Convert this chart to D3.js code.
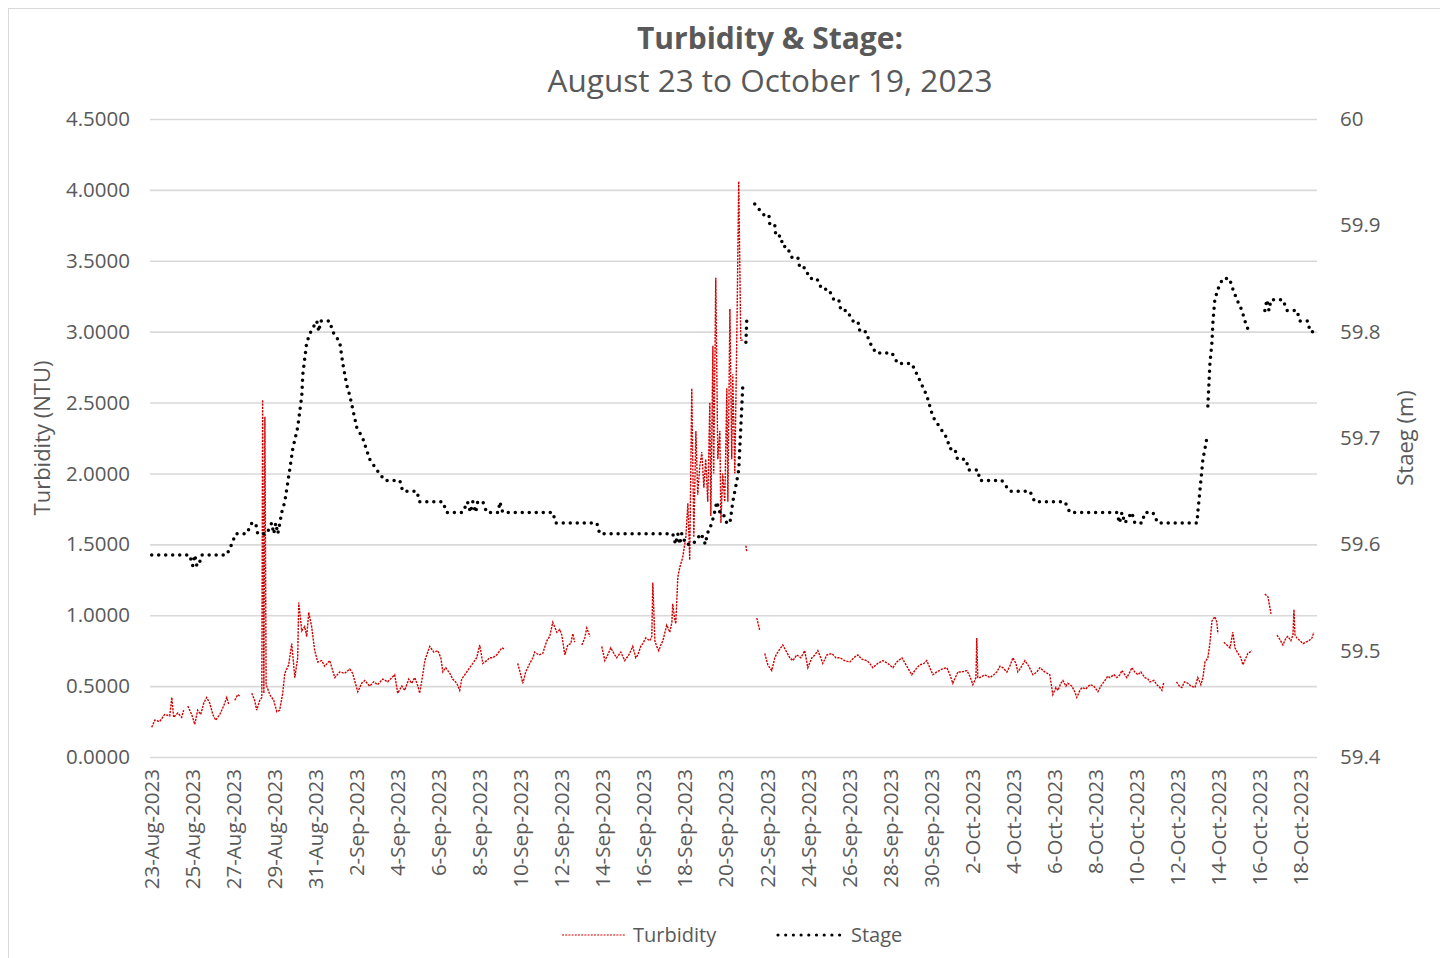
<!DOCTYPE html>
<html>
<head>
<meta charset="utf-8">
<script src="https://cdn.jsdelivr.net/npm/d3@7"></script>
<style>
  body { margin: 0; background: #fff; }
  text { font-family: "Open Sans", sans-serif; fill: #595959; }
</style>
</head>
<body>
<div id="chart"></div>
<script>
// data (days since 23-Aug-2023 00:00)
var turbDays = [0.00,0.15,0.39,0.63,0.88,0.98,1.07,1.27,1.46,1.56,1.66,1.76,1.95,2.10,2.24,2.39,2.54,2.68,2.83,2.98,3.12,3.32,3.51,3.66,3.76,3.90,
  4.05,4.20,4.29,4.60,4.88,5.02,5.12,5.27,5.37,5.41,5.47,5.52,5.58,5.76,5.95,6.10,6.24,6.39,6.49,6.68,6.83,6.98,7.12,7.17,7.32,7.46,7.56,7.66,7.80,7.95,
  8.10,8.29,8.44,8.68,8.93,9.17,9.41,9.66,9.80,10.05,10.24,10.39,10.63,10.83,11.02,11.27,11.51,11.71,11.85,12.00,12.20,12.34,12.54,12.68,12.83,12.98,
  13.07,13.22,13.32,13.56,13.76,13.95,14.10,14.20,14.34,14.54,14.68,14.88,15.02,15.12,15.27,15.46,15.66,15.85,16.00,16.15,16.34,16.49,16.63,16.83,16.98,
  17.07,17.22,17.50,17.85,18.00,18.10,18.24,18.44,18.59,18.68,18.88,19.07,19.27,19.41,19.56,19.76,19.90,20.00,20.15,20.29,20.44,20.54,20.63,20.80,
  20.98,21.12,21.22,21.37,21.65,21.95,22.10,22.24,22.39,22.54,22.68,22.88,23.07,23.27,23.46,23.61,23.71,23.85,23.95,24.10,24.29,24.39,24.44,24.54,24.63,
  24.73,24.83,24.93,25.12,25.27,25.37,25.41,25.51,25.56,25.66,25.76,25.90,26.05,26.15,26.24,26.34,26.44,26.54,26.63,26.73,26.83,26.93,27.02,27.12,27.22,
  27.27,27.37,27.41,27.51,27.61,27.71,27.76,27.85,27.95,28.05,28.10,28.20,28.29,28.34,28.44,28.54,28.63,28.73,28.83,28.90,28.98,29.02,29.30,29.51,29.66,
  29.78,29.90,30.05,30.24,30.39,30.49,30.63,30.78,30.93,31.12,31.27,31.46,31.66,31.85,32.00,32.20,32.34,32.49,32.63,32.73,32.93,33.17,33.37,33.56,33.80,
  34.05,34.24,34.44,34.63,34.88,35.02,35.17,35.41,35.66,35.90,36.15,36.34,36.59,36.83,37.07,37.27,37.46,37.66,37.80,37.95,38.10,38.29,38.54,38.78,38.93,
  39.07,39.32,39.51,39.76,39.90,40.05,40.20,40.24,40.29,40.39,40.63,40.88,41.07,41.22,41.37,41.51,41.71,41.85,42.00,42.15,42.24,42.39,42.59,42.78,42.98,
  43.17,43.32,43.56,43.80,43.95,44.10,44.20,44.34,44.44,44.59,44.68,44.88,45.02,45.12,45.27,45.37,45.56,45.76,45.95,46.15,46.29,46.49,46.63,46.73,46.93,
  47.07,47.22,47.32,47.46,47.56,47.71,47.80,47.95,48.10,48.24,48.44,48.59,48.68,48.88,49.02,49.17,49.27,49.37,49.65,49.98,50.12,50.24,50.37,50.54,50.68,
  50.88,51.02,51.17,51.27,51.37,51.51,51.61,51.71,51.85,51.95,52.00,52.15,52.29,52.44,52.59,52.73,52.83,52.98,53.12,53.22,53.37,53.46,53.56,53.66,54.00,
  54.29,54.44,54.59,54.75,54.88,55.02,55.17,55.32,55.41,55.56,55.66,55.71,55.76,55.85,56.00,56.15,56.29,56.44,56.59,56.68];
var turbNTU = [0.21,0.26,0.25,0.30,0.29,0.42,0.28,0.31,0.28,0.33,null,0.36,0.30,0.23,0.33,0.30,0.38,0.42,0.38,0.30,0.26,0.30,0.36,0.42,0.37,null,
  0.40,0.44,0.43,null,0.45,0.40,0.33,0.40,0.42,2.52,0.45,2.40,0.51,0.44,0.40,0.32,0.33,0.45,0.59,0.65,0.80,0.56,0.70,1.09,0.89,0.92,0.85,1.02,0.92,0.75,
  0.67,0.68,0.64,0.68,0.56,0.60,0.59,0.62,0.59,0.46,0.52,0.54,0.50,0.53,0.51,0.55,0.53,0.56,0.58,0.45,0.50,0.47,0.55,0.52,0.56,0.50,
  0.45,0.58,0.68,0.78,0.74,0.75,0.70,0.60,0.63,0.59,0.55,0.52,0.47,0.55,0.58,0.62,0.66,0.70,0.79,0.66,0.68,0.70,0.70,0.72,0.75,
  0.77,0.76,null,0.66,0.58,0.52,0.60,0.66,0.70,0.74,0.72,0.73,0.82,0.85,0.95,0.88,0.90,0.86,0.72,0.79,0.80,0.87,0.81,null,
  0.79,0.84,0.91,0.85,null,0.78,0.68,0.72,0.77,0.73,0.70,0.74,0.68,0.72,0.78,0.70,0.72,0.78,0.80,0.84,0.82,0.85,1.23,0.82,0.78,
  0.75,0.79,0.82,0.93,0.88,0.95,1.08,0.97,0.94,1.27,1.34,1.41,1.55,1.79,1.39,2.60,1.55,2.30,1.85,2.05,2.15,1.90,2.10,1.80,2.50,
  1.70,2.90,2.00,3.38,2.10,2.30,1.65,2.00,1.80,2.60,1.80,3.16,2.10,2.70,2.00,3.00,4.06,2.94,2.94,null,1.49,1.45,null,0.98,0.89,
  null,0.73,0.65,0.61,0.70,0.73,0.76,0.79,0.75,0.70,0.68,0.72,0.70,0.75,0.63,0.70,0.72,0.75,0.70,0.66,0.72,0.73,0.70,0.70,0.68,
  0.67,0.70,0.72,0.69,0.68,0.66,0.63,0.66,0.68,0.66,0.63,0.67,0.70,0.64,0.58,0.62,0.65,0.66,0.68,0.63,0.58,0.60,0.62,0.63,0.58,
  0.52,0.60,0.60,0.61,0.57,0.51,0.56,0.84,0.56,0.56,0.58,0.56,0.58,0.60,0.64,0.63,0.60,0.64,0.70,0.66,0.60,0.63,0.68,0.64,0.58,
  0.60,0.63,0.60,0.58,0.44,0.49,0.47,0.52,0.54,0.50,0.52,0.50,0.46,0.42,0.47,0.49,0.48,0.51,0.50,0.46,0.50,0.54,0.57,0.56,0.58,
  0.56,0.58,0.61,0.58,0.56,0.60,0.63,0.60,0.58,0.60,0.56,0.55,0.53,0.54,0.51,0.49,0.47,0.53,null,0.53,0.50,0.49,0.53,0.52,0.50,
  0.49,0.56,0.51,0.56,0.67,0.70,0.80,0.96,0.99,0.95,0.87,null,0.81,0.79,0.77,0.88,0.77,0.73,0.70,0.65,0.70,0.73,0.74,0.75,null,
  1.15,1.13,1.01,null,0.86,0.83,0.79,0.84,0.85,0.82,0.86,1.04,0.86,0.84,0.82,0.80,0.81,0.82,0.84,0.88];

var stageDays = [0.00,0.50,1.00,1.50,1.85,2.00,2.10,2.20,2.29,2.44,2.59,3.00,3.66,3.90,4.10,4.63,4.88,5.07,5.17,5.61,5.85,5.95,6.05,6.15,6.25,6.34,
  6.49,6.73,6.88,7.12,7.32,7.37,7.56,7.76,8.05,8.15,8.24,8.44,8.68,8.83,9.17,9.32,9.51,9.66,10.00,10.29,10.63,10.98,11.37,12.10,12.24,12.93,13.07,
  14.20,14.39,15.17,15.40,15.55,15.66,15.80,15.90,16.15,16.34,16.90,16.98,17.12,18.93,19.56,19.71,20.39,21.71,21.85,25.41,25.55,25.66,25.75,25.85,
  26.05,26.39,26.80,27.00,27.10,27.32,27.45,27.56,27.71,27.85,28.05,28.20,28.34,28.54,28.63,28.68,28.73,28.78,28.83,28.90,28.98,29.02,29.20,29.41,
  29.85,30.10,30.15,30.39,30.44,30.68,30.78,30.98,31.22,31.51,31.61,31.85,32.10,32.44,32.68,33.02,33.27,33.51,33.61,33.90,34.20,34.44,34.54,34.83,
  35.02,35.32,36.10,36.39,37.07,37.32,37.56,37.80,38.10,38.44,38.78,38.93,39.17,39.30,39.71,39.85,40.29,40.39,41.46,41.85,42.83,43.07,44.54,44.78,
  47.07,47.20,47.32,47.46,47.80,47.95,48.29,48.44,48.83,49.07,50.98,51.02,51.07,51.12,51.17,51.22,51.27,51.37,51.46,51.49,51.51,51.61,51.71,51.76,
  51.85,52.00,52.24,52.56,52.73,52.93,53.17,53.32,53.51,53.90,54.29,54.39,54.49,54.59,54.78,55.17,55.37,55.85,56.00,56.39,56.49,56.73];
var stageM = [59.59,59.59,59.59,59.59,59.59,59.58,59.59,59.58,59.58,59.59,59.59,59.59,59.59,59.60,59.61,59.61,59.62,59.62,59.61,59.61,59.62,59.61,59.62,59.61,59.62,59.63,
  59.64,59.67,59.69,59.71,59.74,59.76,59.79,59.80,59.81,59.80,59.81,59.81,59.81,59.80,59.79,59.77,59.75,59.74,59.71,59.70,59.68,59.67,59.66,59.66,59.65,59.65,59.64,
  59.64,59.63,59.63,59.64,59.63,59.64,59.63,59.64,59.64,59.63,59.63,59.64,59.63,59.63,59.63,59.62,59.62,59.62,59.61,59.61,59.60,59.61,59.60,59.61,
  59.60,59.60,59.61,59.60,59.61,59.62,59.63,59.64,59.63,59.63,59.62,59.62,59.64,59.66,59.67,59.69,59.71,59.73,59.75,null,59.79,59.81,null,59.92,
  59.91,59.91,59.90,59.90,59.89,59.89,59.88,59.88,59.87,59.87,59.86,59.86,59.85,59.85,59.84,59.84,59.83,59.83,59.82,59.82,59.81,59.81,59.80,59.80,
  59.79,59.78,59.78,59.77,59.77,59.76,59.75,59.74,59.72,59.71,59.70,59.69,59.69,59.68,59.68,59.67,59.67,59.66,59.66,59.65,59.65,59.64,59.64,59.63,
  59.63,59.62,59.63,59.62,59.63,59.62,59.62,59.63,59.63,59.62,59.62,59.63,59.64,59.65,59.66,59.67,59.68,59.69,59.70,null,59.73,59.77,59.79,59.81,
  59.83,59.84,59.85,59.85,59.84,59.83,59.82,59.81,59.80,null,59.82,59.83,59.82,59.83,59.83,59.83,59.82,59.82,59.81,59.81,59.80,59.80];

var turbTicks = [0, 0.5, 1, 1.5, 2, 2.5, 3, 3.5, 4, 4.5];
var stageTicks = [59.4, 59.5, 59.6, 59.7, 59.8, 59.9, 60];

var t0 = new Date(2023, 7, 23);
var dateTicks = d3.range(0, 57, 2).map(function(i) { return d3.timeDay.offset(t0, i); });

function toDate(d) { return new Date(t0.getTime() + d * 864e5); }

var turbidity = turbDays.map(function(d, i) { return {t: toDate(d), v: turbNTU[i]}; });
var stage = stageDays.map(function(d, i) { return {t: toDate(d), v: stageM[i]}; });

var W = 1440, H = 958;
var plotLeft = 150, plotRight = 1317, plotTop = 119, plotBottom = 757;

var svg = d3.select("#chart").append("svg")
    .attr("width", W)
    .attr("height", H);

// chart frame
svg.append("rect")
    .attr("x", 8.5).attr("y", 8.5)
    .attr("width", W).attr("height", H)
    .attr("fill", "none")
    .attr("stroke", "#d9d9d9");

var x = d3.scaleTime()
    .domain([d3.timeHour.offset(t0, -2), d3.timeHour.offset(t0, 1364)])
    .range([plotLeft, plotRight]);
var y = d3.scaleLinear().domain([0, 4.5]).range([plotBottom, plotTop]);
var y2 = d3.scaleLinear().domain([59.4, 60]).range([plotBottom, plotTop]);

// left axis + gridlines
var gy = svg.append("g")
    .attr("transform", "translate(" + plotLeft + ",0)")
    .call(d3.axisLeft(y).tickValues(turbTicks).tickFormat(d3.format(".4f"))
        .tickSize(-(plotRight - plotLeft)).tickPadding(20));
gy.select(".domain").remove();
gy.selectAll(".tick line").attr("stroke", "#d9d9d9").attr("stroke-width", 1.6);
gy.selectAll(".tick text").style("font-size", "20.5px").style("font-family", "Open Sans").attr("fill", "#595959");

// right axis
var gy2 = svg.append("g")
    .attr("transform", "translate(" + plotRight + ",0)")
    .call(d3.axisRight(y2).tickValues(stageTicks).tickFormat(function(d) { return String(+d.toFixed(1)); })
        .tickSize(0).tickPadding(23));
gy2.select(".domain").remove();
gy2.selectAll(".tick text").style("font-size", "20.5px").style("font-family", "Open Sans").attr("fill", "#595959");

// date axis, labels turned upright
var gx = svg.append("g")
    .attr("transform", "translate(0," + plotBottom + ")")
    .call(d3.axisBottom(x).tickValues(dateTicks).tickFormat(d3.timeFormat("%-d-%b-%Y")).tickSize(0));
gx.select(".domain").remove();
gx.selectAll(".tick text")
    .style("font-size", "20.5px").style("font-family", "Open Sans").attr("fill", "#595959")
    .attr("text-anchor", "end")
    .attr("transform", "rotate(-90)")
    .attr("x", -12).attr("y", 0).attr("dy", "0.35em");

// lines
var line = function(sc) {
    return d3.line()
        .defined(function(d) { return d.v != null; })
        .x(function(d) { return x(d.t); })
        .y(function(d) { return sc(d.v); });
};

svg.append("path")
    .datum(turbidity)
    .attr("fill", "none")
    .attr("stroke", "#d00000")
    .attr("stroke-width", 1.4)
    .attr("stroke-dasharray", "2.2,1.1")
    .attr("d", line(y));

svg.append("path")
    .datum(stage)
    .attr("fill", "none")
    .attr("stroke", "#000")
    .attr("stroke-width", 3.5)
    .attr("stroke-linecap", "round")
    .attr("stroke-dasharray", "0,7")
    .attr("d", line(y2));

// titles
svg.append("text")
    .attr("x", 770).attr("y", 49)
    .attr("text-anchor", "middle")
    .style("font-size", "30px").style("font-weight", "bold")
    .text("Turbidity & Stage:");
svg.append("text")
    .attr("x", 770).attr("y", 92)
    .attr("text-anchor", "middle")
    .style("font-size", "31.5px")
    .text("August 23 to October 19, 2023");

svg.append("text")
    .attr("transform", "translate(50,438) rotate(-90)")
    .attr("text-anchor", "middle")
    .style("font-size", "22px")
    .text("Turbidity (NTU)");
svg.append("text")
    .attr("transform", "translate(1413,438) rotate(-90)")
    .attr("text-anchor", "middle")
    .style("font-size", "22px")
    .text("Staeg (m)");

// legend
var lg = svg.append("g").attr("transform", "translate(0,935)");
lg.append("line").attr("x1", 562).attr("x2", 625)
    .attr("stroke", "#d00000").attr("stroke-width", 1.2).attr("stroke-dasharray", "2,1.2");
lg.append("text").attr("x", 633).attr("dy", "0.35em").style("font-size", "20px").text("Turbidity");
lg.append("line").attr("x1", 778).attr("x2", 840)
    .attr("stroke", "#000").attr("stroke-width", 3.2)
    .attr("stroke-linecap", "round").attr("stroke-dasharray", "0,7.7");
lg.append("text").attr("x", 851).attr("dy", "0.35em").style("font-size", "20px").text("Stage");
</script>
</body>
</html>
